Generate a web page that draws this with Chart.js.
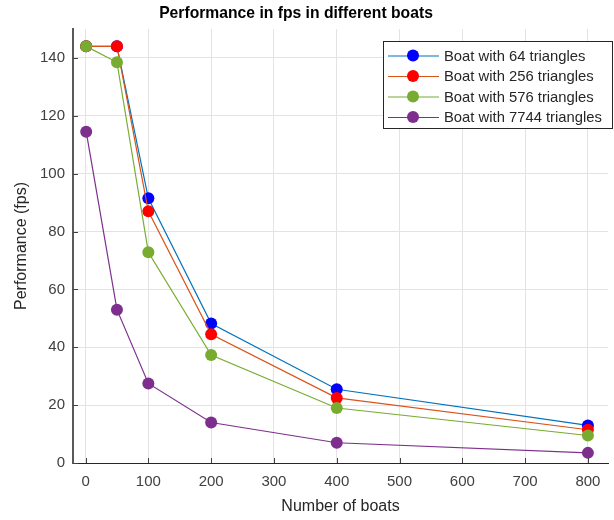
<!DOCTYPE html>
<html>
<head>
<meta charset="utf-8">
<script src="https://cdn.jsdelivr.net/npm/chart.js@4.4.1/dist/chart.umd.min.js"></script>
<style>
  html, body { margin: 0; padding: 0; background: #ffffff; }
  #wrap { width: 614px; height: 520px; position: relative; }
</style>
</head>
<body>
<div id="wrap"><canvas id="c" width="614" height="520"></canvas></div>
<script>
// Number of boats on the x axis
const boats = [1, 50, 100, 200, 400, 800];

// Frames per second for each boat mesh size
const fps64   = [144, 144, 91.5, 48.2, 25.5, 13.0];
const fps256  = [144, 144, 87.0, 44.5, 22.5, 11.5];
const fps576  = [144, 138.5, 72.8, 37.3, 19.0, 9.5];
const fps7744 = [114.5, 53.0, 27.5, 14.0, 7.0, 3.5];

const seriesLabels = [
  'Boat with 64 triangles',
  'Boat with 256 triangles',
  'Boat with 576 triangles',
  'Boat with 7744 triangles'
];

const xTickValues = [0, 100, 200, 300, 400, 500, 600, 700, 800];
const yTickValues = [0, 20, 40, 60, 80, 100, 120, 140];

const titleText = 'Performance in fps in different boats';
const xTitle = 'Number of boats';
const yTitle = 'Performance (fps)';

const FONT = '"Liberation Sans", Arial, Helvetica, sans-serif';

const lineColors   = ['#0072BD', '#D95319', '#77AC30', '#7E2F8E'];
const markerColors = ['#0000FF', '#FF0000', '#77AC30', '#7E2F8E'];

function pts(vals) { return boats.map((b, i) => ({ x: b, y: vals[i] })); }
const allSeries = [fps64, fps256, fps576, fps7744];

const datasets = allSeries.map((vals, i) => ({
  label: seriesLabels[i],
  data: pts(vals),
  borderColor: lineColors[i],
  backgroundColor: markerColors[i],
  pointBackgroundColor: markerColors[i],
  pointBorderColor: markerColors[i],
  pointBorderWidth: 0,
  pointRadius: 6,
  pointHoverRadius: 6,
  borderWidth: 1.2,
  tension: 0,
  fill: false,
  // later series drawn on top
  order: allSeries.length - i
}));

// Title, inner tick marks and the boxed legend inside the plot
const decorations = {
  id: 'decorations',
  afterDraw(chart) {
    const ctx = chart.ctx;
    const area = chart.chartArea;
    const xs = chart.scales.x, ys = chart.scales.y;
    ctx.save();

    // title
    ctx.fillStyle = '#000000';
    ctx.font = 'bold 15.7px ' + FONT;
    ctx.textAlign = 'center';
    ctx.textBaseline = 'middle';
    ctx.fillText(titleText, 296, 14);

    // inward tick marks
    ctx.strokeStyle = '#404040';
    ctx.lineWidth = 1;
    ctx.beginPath();
    xTickValues.forEach(v => {
      const px = Math.round(xs.getPixelForValue(v)) + 0.5;
      ctx.moveTo(px, area.bottom);
      ctx.lineTo(px, area.bottom - 5);
    });
    yTickValues.forEach(v => {
      const py = Math.round(ys.getPixelForValue(v)) + 0.5;
      ctx.moveTo(area.left, py);
      ctx.lineTo(area.left + 5, py);
    });
    ctx.stroke();

    // legend box
    const lx = 383.5, ly = 41.5, lw = 229, lh = 87;
    ctx.fillStyle = '#ffffff';
    ctx.fillRect(lx, ly, lw, lh);
    ctx.strokeStyle = '#262626';
    ctx.lineWidth = 1;
    ctx.strokeRect(lx, ly, lw, lh);

    const rows = [55.5, 76, 96.5, 117];
    ctx.font = '14.8px ' + FONT;
    ctx.textAlign = 'left';
    ctx.textBaseline = 'middle';
    chart.data.datasets.forEach((ds, i) => {
      const cy = rows[i];
      ctx.strokeStyle = ds.borderColor;
      ctx.lineWidth = 1.2;
      ctx.beginPath();
      ctx.moveTo(388, cy + 0.5);
      ctx.lineTo(439, cy + 0.5);
      ctx.stroke();
      ctx.fillStyle = ds.pointBackgroundColor;
      ctx.beginPath();
      ctx.arc(413, cy, 6, 0, Math.PI * 2);
      ctx.fill();
      ctx.fillStyle = '#262626';
      ctx.fillText(ds.label, 444, cy + 1);
    });

    ctx.restore();
  }
};

new Chart(document.getElementById('c'), {
  type: 'line',
  data: { datasets },
  plugins: [decorations],
  options: {
    responsive: false,
    animation: false,
    devicePixelRatio: 1,
    layout: { padding: { top: 29, right: 0, bottom: 0, left: 0 } },
    plugins: {
      legend: { display: false },
      title: { display: false },
      tooltip: { enabled: false }
    },
    scales: {
      x: {
        type: 'linear',
        min: -20,
        max: 832,
        afterBuildTicks(scale) {
          scale.ticks = xTickValues.map(v => ({ value: v }));
        },
        afterFit(scale) { scale.height = 57; },
        ticks: {
          color: '#404040',
          font: { family: FONT, size: 15 },
          padding: 10,
          maxRotation: 0,
          autoSkip: false
        },
        grid: { color: '#e3e3e3', lineWidth: 1, drawTicks: false },
        border: { display: true, color: '#262626', width: 1 },
        title: {
          display: true,
          text: xTitle,
          color: '#262626',
          font: { family: FONT, size: 16 },
          padding: { top: 0, bottom: 4 }
        }
      },
      y: {
        type: 'linear',
        min: 0,
        max: 150,
        afterBuildTicks(scale) {
          scale.ticks = yTickValues.map(v => ({ value: v }));
        },
        afterFit(scale) { scale.width = 73; },
        ticks: {
          color: '#404040',
          font: { family: FONT, size: 15 },
          padding: 8,
          autoSkip: false
        },
        grid: { color: '#e3e3e3', lineWidth: 1, drawTicks: false },
        border: { display: true, color: '#595959', width: 2 },
        title: {
          display: true,
          text: yTitle,
          color: '#262626',
          font: { family: FONT, size: 16 },
          padding: { top: 12, bottom: 0 }
        }
      }
    }
  }
});
</script>
</body>
</html>
